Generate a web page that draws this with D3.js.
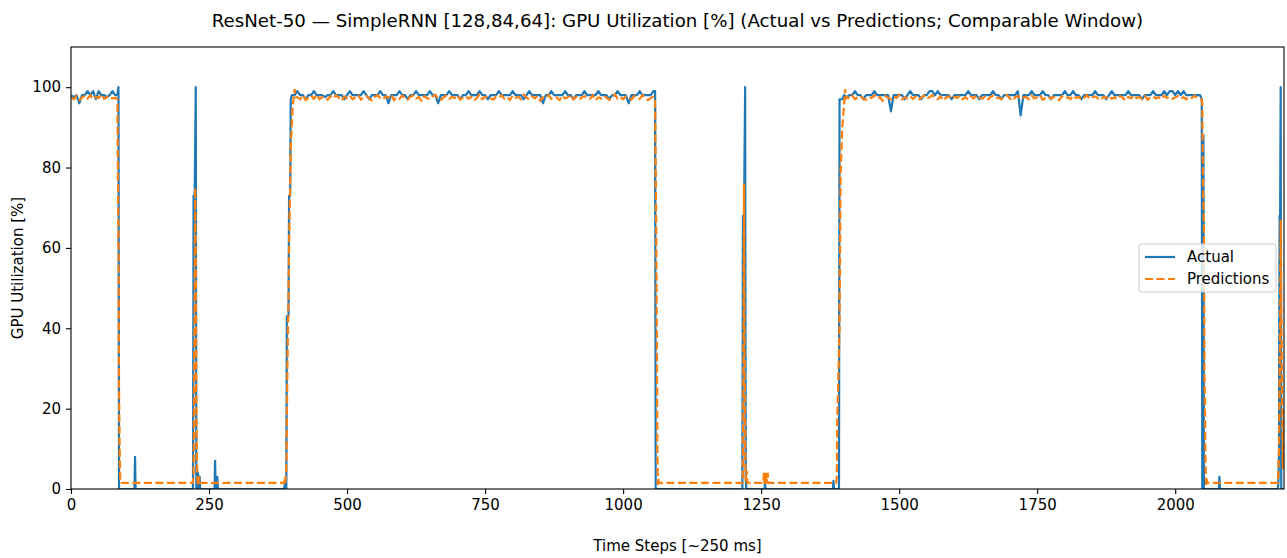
<!DOCTYPE html>
<html>
<head>
<meta charset="utf-8">
<script src="https://cdn.jsdelivr.net/npm/d3@7"></script>
<style>
  html, body { margin: 0; padding: 0; background: #fff; }
  svg { display: block; font-family: "DejaVu Sans", sans-serif; }
</style>
</head>
<body>
<div id="chart"></div>
<script>
// ---- data ----
const title = 'ResNet-50 — SimpleRNN [128,84,64]: GPU Utilization [%] (Actual vs Predictions; Comparable Window)';
const xTicks = [0, 250, 500, 750, 1000, 1250, 1500, 1750, 2000];
const yTicks = [0, 20, 40, 60, 80, 100];
const seriesNames = ['Actual', 'Predictions'];

// plateau samples, one value every 5 time steps
const actualRun1 = [98,97.5,98,96,98,98,99,98,99,97,99,98,98,97.5,98,99,98];        // steps 0..80
const actualRun2 = [                                                                  // steps 400..1055
  98,98,99,98,98,97,98,98,99,98, 98,98,97.5,98,98,99,98,98,98,97,
  98,99,98,98,98,98,99,98,97,98, 98,98,99,98,98,96,98,98,98,99,
  98,98,97,98,98,99,98,98,98,98, 99,98,98,96,98,98,98,99,98,98,
  98,97,98,98,99,98,98,98,99,98, 98,97,98,98,98,99,98,98,98,98,
  99,98,98,98,97,98,99,98,98,98, 98,96,98,98,99,98,98,98,98,99,
  98,98,97,98,98,98,99,98,98,98, 98,99,98,98,98,97,98,98,99,98,
  98,98,96,98,98,98,99,98,98,98, 98,99];
const actualRun3 = [                                                                  // steps 1400..2045
  98,97.5,98,98,99,98,98,97,98,98, 98,99,98,98,98,98,98,94,98,98,
  98,98,97,98,99,98,98,98,97,98, 98,99,99,98,99,98,98,98,98,97,
  98,98,98,98,98,99,98,98,98,97, 98,98,98,98,99,98,98,97,98,98,
  98,98,98,99,93,98,98,98,99,98, 98,98,99,98,98,97,98,98,98,98,
  99,98,98,99,98,98,97,98,98,98, 98,99,98,98,98,97,98,99,98,98,
  98,98,98,99,98,98,98,98,97,98, 98,98,99,98,98,98,99,98,99,99,
  98,99,98,99,98,98,98,98,98,98];
// transitions and isolated spikes [step, value]
const actualEvents = [
  [84,98],[86,100],[87,0],[115,0],[116,8],[117,0],[221,0],[222,73],[224,73],[226,100],[227,0],
  [229,0],[230,4],[231,0],[233,3],[234,0],[260,0],[261,7],[262,0],[264,0],[265,3],[266,0],
  [386,0],[387,1],[388,0],[390,0],[391,43],[394,43],[395,73],[397,73],[398,97],
  [1057,99],[1058,99],[1059,0],[1216,0],[1217,68],[1219,68],[1221,100],[1222,4],[1223,0],
  [1256,0],[1257,1.5],[1258,0],[1380,0],[1381,2],[1382,0],[1391,0],[1392,97],[1397,97],
  [2048,97],[2049,0],[2050,0],[2051,88],[2052,0],[2079,0],[2080,3],[2081,0],
  [2186,0],[2187,2],[2188,10],[2189,68],[2190,68],[2191,100],[2192,0],[2197,0]
];

const predRun1 = [97.5,97,97.8,96.8,97.4,97.9,97.2,98,97,97.6,97.3,98.2,97.1,97.5,97.8,97.2,97.4]; // steps 0..80
const predRun2 = [                                                                    // steps 410..1055
  97.5,97,98,96.8,97.4,97.9,97.1,98.2,97,97.6, 97.3,96.9,97.8,97.2,98,97.4,96.6,97.7,97.3,97.9,
  97,97.5,98.1,96.9,97.4,97.8,97.2,96.7,97.6,98, 97.3,97,97.7,97.4,98.2,96.8,97.5,97.1,97.9,97.3,
  96.9,97.6,98,97.2,97.5,96.6,97.8,97.3,97,97.7, 98.1,97.2,96.8,97.5,97.9,97.1,97.6,97.3,98,96.9,
  97.4,97.8,97.1,97.6,96.7,97.3,98.2,97,97.5,97.8, 97.2,96.9,97.7,97.4,98,97.1,97.5,96.8,97.9,97.3,
  97.6,97,98.1,97.4,96.9,97.7,97.2,97.8,96.6,97.5, 97.3,98,97.1,97.6,97.4,96.8,97.9,97.2,97.5,98.1,
  97,97.6,96.9,97.4,97.8,97.3,97.1,98,96.7,97.5, 97.2,97.9,97.4,96.8,97.6,98.2,97.1,97.5,97,97.7,
  97.3,96.9,97.8,97.4,97.1,98,97.5,96.8,97.3,97.6];
const predRun3 = [                                                                    // steps 1405..2045
  97.6,97.2,97.9,97,97.5,97.8,97.1,96.9,97.6,97.3, 98,97.2,97.5,96.6,97.8,97.4,97,97.7,97.3,98.1,
  96.9,97.5,97.2,97.8,97.1,97.6,96.8,97.4,97.9,97.2, 97.5,98,97.3,97,97.7,96.7,97.4,97.8,97.1,97.6,
  97.3,97.9,97,97.5,96.9,97.7,97.2,98,97.4,97.1, 97.6,96.8,97.5,97.9,97.2,97.4,97,97.7,98.1,97.3,
  96.6,97.5,97.8,97.1,97.4,97.6,97,97.9,97.2,97.5, 98,96.9,97.3,97.7,97.1,97.6,97.4,96.8,97.8,97.2,
  97.5,97,97.9,97.3,97.6,96.9,97.4,98,97.1,97.5, 97.7,97.2,96.8,97.6,97.3,97.9,97.1,97.5,97,97.8,
  97.4,96.7,97.6,97.2,98,97.3,97.5,97.1,97.8,96.9, 97.4,97.7,97.2,97.5,97,97.9,97.3,97.6,97.1,97.4,
  97.8,97.2,97.5,97,97.6,97.3,97.9,97.4,97.2];
const predEvents = [
  [84,97],[86,60],[87,25],[88,12],[89,3],[90,1.5],[220,1.5],[222,3],[223,30],[225,75],[226,60],
  [227,20],[228,8],[229,2],[230,1],[232,3],[233,1.5],[386,1.5],[387,2.5],[388,1.5],[390,5],
  [392,30],[395,60],[398,85],[401,94],[403,97],[405,99.5],[407,97.5],
  [1057,97],[1058,96],[1059,80],[1060,64],[1061,40],[1062,10],[1063,1],[1064,2.5],[1065,1.5],
  [1216,1.5],[1217,3],[1218,40],[1219,76],[1220,40],[1221,10],[1222,2],[1224,4.5],[1225,1.5],
  [1254,1.5],[1255,4],[1256,1.5],[1258,1.5],[1259,4],[1260,1.5],[1262,4],[1263,1.5],
  [1386,1.5],[1387,3],[1388,18],[1392,40],[1394,79],[1397,90],[1401,97],[1402,99.5],[1404,97],
  [2047,97],[2049,96],[2050,80],[2052,64],[2053,30],[2055,5],[2056,1],[2057,2.5],[2058,1.5],
  [2186,1.5],[2188,10],[2190,40],[2191,67],[2193,30],[2195,5],[2197,20]
];

// ---- assemble series ----
function run(start, values) {
  return values.map((v, i) => [start + i * 5, v]);
}
const actual = [].concat(run(0, actualRun1), run(400, actualRun2), run(1400, actualRun3), actualEvents)
  .sort((a, b) => a[0] - b[0]);
const predictions = [].concat(run(0, predRun1), run(410, predRun2), run(1405, predRun3), predEvents)
  .sort((a, b) => a[0] - b[0]);

// ---- layout ----
const W = 1287, H = 558;
const m = { left: 71, right: 1284, top: 47, bottom: 489 };
const FS = 15;

const svg = d3.select('#chart').append('svg')
  .attr('width', W).attr('height', H);

svg.append('rect').attr('width', W).attr('height', H).attr('fill', '#fff');

const x = d3.scaleLinear().domain([0, 2197]).range([m.left, m.right]);
const y = d3.scaleLinear().domain([0, 110]).range([m.bottom, m.top]);

svg.append('defs').append('clipPath').attr('id', 'plot-clip')
  .append('rect')
  .attr('x', m.left).attr('y', m.top)
  .attr('width', m.right - m.left).attr('height', m.bottom - m.top);

const line = d3.line().x(d => x(d[0])).y(d => y(d[1]));

const plot = svg.append('g').attr('clip-path', 'url(#plot-clip)');
plot.append('path')
  .datum(actual)
  .attr('d', line)
  .attr('fill', 'none')
  .attr('stroke', '#1f77b4')
  .attr('stroke-width', 2.2)
  .attr('stroke-linejoin', 'round');
plot.append('path')
  .datum(predictions)
  .attr('d', line)
  .attr('fill', 'none')
  .attr('stroke', '#ff7f0e')
  .attr('stroke-width', 2.2)
  .attr('stroke-dasharray', '8,3.5');

// axes
const xAxis = svg.append('g')
  .attr('transform', `translate(0,${m.bottom})`)
  .call(d3.axisBottom(x).tickValues(xTicks).tickSize(5).tickPadding(5).tickFormat(d3.format('d')));
const yAxis = svg.append('g')
  .attr('transform', `translate(${m.left},0)`)
  .call(d3.axisLeft(y).tickValues(yTicks).tickSize(5).tickPadding(5).tickFormat(d3.format('d')));
[xAxis, yAxis].forEach(a => {
  a.select('.domain').remove();
  a.selectAll('text').attr('font-size', FS).attr('fill', '#000')
    .attr('font-family', '"DejaVu Sans", sans-serif');
  a.selectAll('line').attr('stroke', '#000').attr('stroke-width', 1.1);
});

// frame
svg.append('rect')
  .attr('x', m.left).attr('y', m.top)
  .attr('width', m.right - m.left).attr('height', m.bottom - m.top)
  .attr('fill', 'none').attr('stroke', '#000').attr('stroke-width', 1.1);

// labels
svg.append('text')
  .attr('x', (m.left + m.right) / 2).attr('y', 27)
  .attr('text-anchor', 'middle').attr('font-size', 18.2)
  .text(title);
svg.append('text')
  .attr('x', (m.left + m.right) / 2).attr('y', 551)
  .attr('text-anchor', 'middle').attr('font-size', FS)
  .text('Time Steps [~250 ms]');
svg.append('text')
  .attr('transform', `translate(23,${(m.top + m.bottom) / 2}) rotate(-90)`)
  .attr('text-anchor', 'middle').attr('font-size', FS)
  .text('GPU Utilization [%]');

// legend
const lg = svg.append('g').attr('transform', 'translate(1139,244)');
lg.append('rect')
  .attr('width', 137).attr('height', 48).attr('rx', 3)
  .attr('fill', 'rgba(255,255,255,0.8)')
  .attr('stroke', '#cccccc').attr('stroke-width', 1);
seriesNames.forEach((name, i) => {
  const yy = 13 + i * 22;
  lg.append('line')
    .attr('x1', 6).attr('x2', 36).attr('y1', yy).attr('y2', yy)
    .attr('stroke', i === 0 ? '#1f77b4' : '#ff7f0e')
    .attr('stroke-width', 2.2)
    .attr('stroke-dasharray', i === 0 ? null : '8,3.5');
  lg.append('text')
    .attr('x', 48).attr('y', yy + 5)
    .attr('font-size', FS)
    .text(name);
});
</script>
</body>
</html>
